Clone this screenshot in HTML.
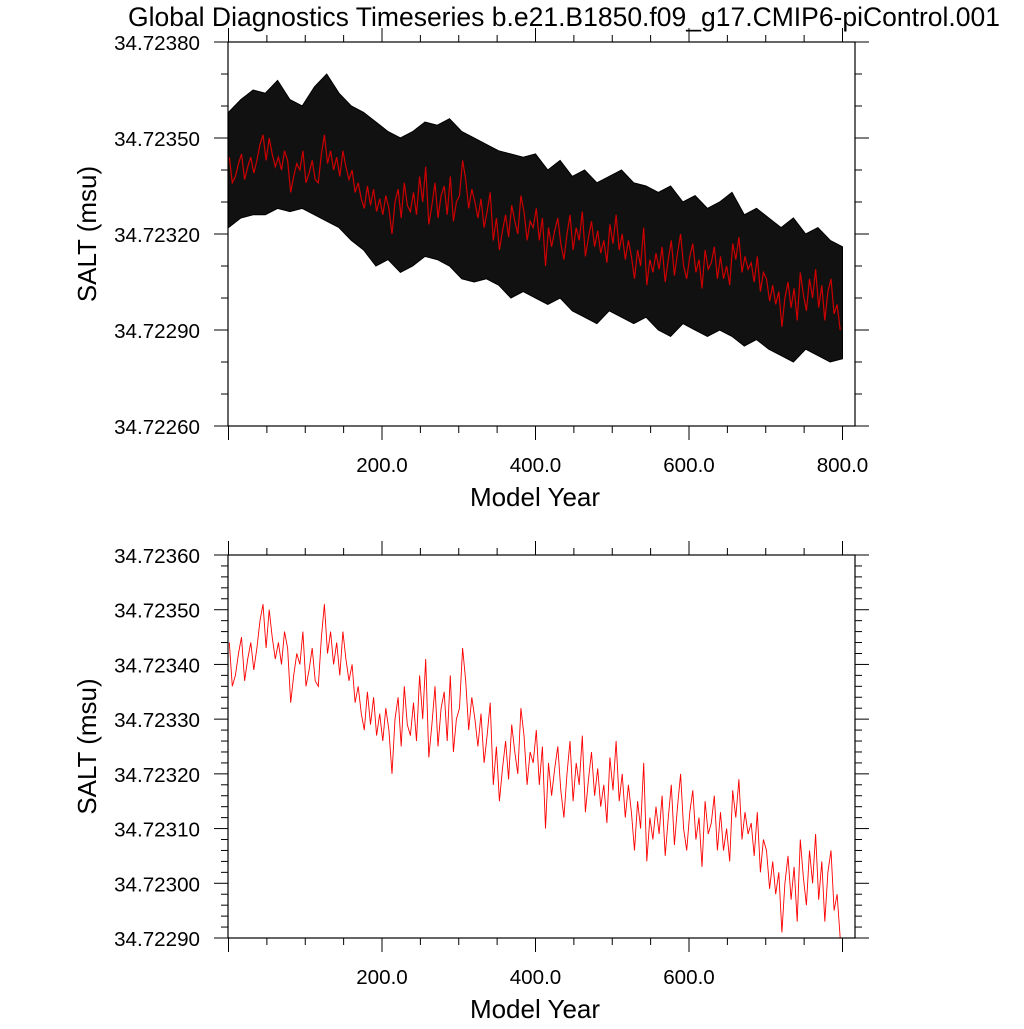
<!DOCTYPE html>
<html><head><meta charset="utf-8"><style>
body{margin:0;background:#fff;}
svg text{font-family:"Liberation Sans",sans-serif;fill:#000;}
</style></head><body>
<svg id="chart" width="1024" height="1024" viewBox="0 0 1024 1024" xmlns="http://www.w3.org/2000/svg">
<text x="564" y="26" font-size="26.5" text-anchor="middle">Global Diagnostics Timeseries b.e21.B1850.f09_g17.CMIP6-piControl.001</text>
<g id="top"></g>
<g id="bot"></g>
</svg>
<script>
// values in units of 1e-5 above 34.72000
const annualYearStep = 4;
const annualSalt = [
344,336,338,342,345,337,341,344,339,343,
348,351,343,350,345,341,344,340,346,343,
333,338,342,340,346,336,339,343,337,336,
345,351,342,346,340,344,338,346,341,337,
340,333,336,331,328,335,329,334,327,331,
326,332,328,320,330,334,325,336,329,327,
333,326,338,330,341,323,329,336,325,332,
335,326,338,324,330,332,343,337,328,334,
330,325,331,322,327,333,318,325,315,321,
326,319,329,324,320,332,327,318,324,322,
328,318,325,310,322,316,321,325,317,312,
320,326,315,322,318,327,313,319,324,316,
321,314,318,311,323,317,326,315,320,312,
318,313,306,315,310,322,304,312,308,314,
309,316,305,312,318,307,314,320,310,306,
313,317,308,312,303,315,309,311,316,306,
313,306,310,304,317,312,319,308,313,309,
311,305,313,302,308,306,299,304,298,302,
291,300,305,297,303,293,308,301,296,306,
300,309,297,304,293,302,306,295,298,290];
const envYearStep = 16;
const monthlyUpper = [358,362,365,364,368,362,360,366,370,364,360,358,355,352,350,352,355,354,356,352,350,348,346,345,344,345,340,343,338,340,336,338,340,336,335,333,335,330,332,328,330,333,326,328,325,322,325,320,322,318,316];
const monthlyLower = [322,325,326,326,328,327,328,326,324,322,318,315,310,312,308,310,313,312,310,306,305,306,304,300,302,300,298,300,296,294,292,296,294,292,294,290,288,292,290,288,290,288,285,287,284,282,280,284,282,280,281];
const topYTicks = [380,350,320,290,260];
const botYTicks = [360,350,340,330,320,310,300,290];
const topXTicks = [200,400,600,800];
const botXTicks = [200,400,600];

const NS="http://www.w3.org/2000/svg";
function mk(p,t,a){const e=document.createElementNS(NS,t);for(const k in a)e.setAttribute(k,a[k]);p.appendChild(e);return e;}
const X0=228,X1=855;
const xs=yr=>228.5+yr*0.7675;
function fmt(v){return (34.72+v*1e-5).toFixed(5);}

function panel(g,Y0,Y1,vmin,vmax,yt,minorStep,xt,drawEnv){
  const ys=v=>Y1-(v-vmin)/(vmax-vmin)*(Y1-Y0);
  if(drawEnv){
    let pts=[];
    monthlyUpper.forEach((v,i)=>pts.push(xs(i*envYearStep).toFixed(1)+","+ys(v).toFixed(1)));
    for(let i=monthlyLower.length-1;i>=0;i--)pts.push(xs(i*envYearStep).toFixed(1)+","+ys(monthlyLower[i]).toFixed(1));
    const env=mk(g,"polygon",{points:pts.join(" "),fill:"#111",stroke:"#000","stroke-width":1});
    
    
  }
  let d="";
  annualSalt.forEach((v,i)=>{d+=(i?"L":"M")+xs(i*annualYearStep+1).toFixed(1)+","+ys(v).toFixed(1);});
  const ln=mk(g,"path",{d:d,fill:"none",stroke:drawEnv?"#c00":"#f00","stroke-width":drawEnv?1.2:0.9});
  
  
  const fr=mk(g,"rect",{x:X0,y:Y0,width:X1-X0,height:Y1-Y0,fill:"none",stroke:"#000","stroke-width":1.2});
  
  
  for(let v=vmin;v<=vmax;v+=minorStep){
    const y=ys(v);const maj=yt.includes(v);const L=maj?14:7;
    mk(g,"line",{x1:X0,x2:X0-L,y1:y,y2:y,stroke:"#000"});
    mk(g,"line",{x1:X1,x2:X1+L,y1:y,y2:y,stroke:"#000"});
  }
  yt.forEach(v=>{const t=mk(g,"text",{x:X0-28,y:ys(v)+8,"font-size":20.6,"text-anchor":"end"});t.textContent=fmt(v);
    
    });
  for(let yr=0;yr<=816;yr+=50){
    const x=xs(yr);const maj=yr%200==0;const L=maj?14:7;
    mk(g,"line",{x1:x,x2:x,y1:Y1,y2:Y1+L,stroke:"#000"});
    mk(g,"line",{x1:x,x2:x,y1:Y0,y2:Y0-L,stroke:"#000"});
  }
  xt.forEach(yr=>{const t=mk(g,"text",{x:xs(yr),y:Y1+46,"font-size":20.6,"text-anchor":"middle"});t.textContent=yr.toFixed(1);
    
    });
  const xl=mk(g,"text",{x:535,y:Y1+80,"font-size":26,"text-anchor":"middle"});xl.textContent="Model Year";
  
  
  const cy=(Y0+Y1)/2;
  const yl=mk(g,"text",{x:96,y:cy,"font-size":26,"text-anchor":"middle",transform:`rotate(-90 96 ${cy})`});yl.textContent="SALT (msu)";
  
  
}
panel(document.getElementById("top"),42,426,260,380,topYTicks,10,topXTicks,true);
panel(document.getElementById("bot"),555,938,290,360,botYTicks,2,botXTicks,false);
</script>
</body></html>
